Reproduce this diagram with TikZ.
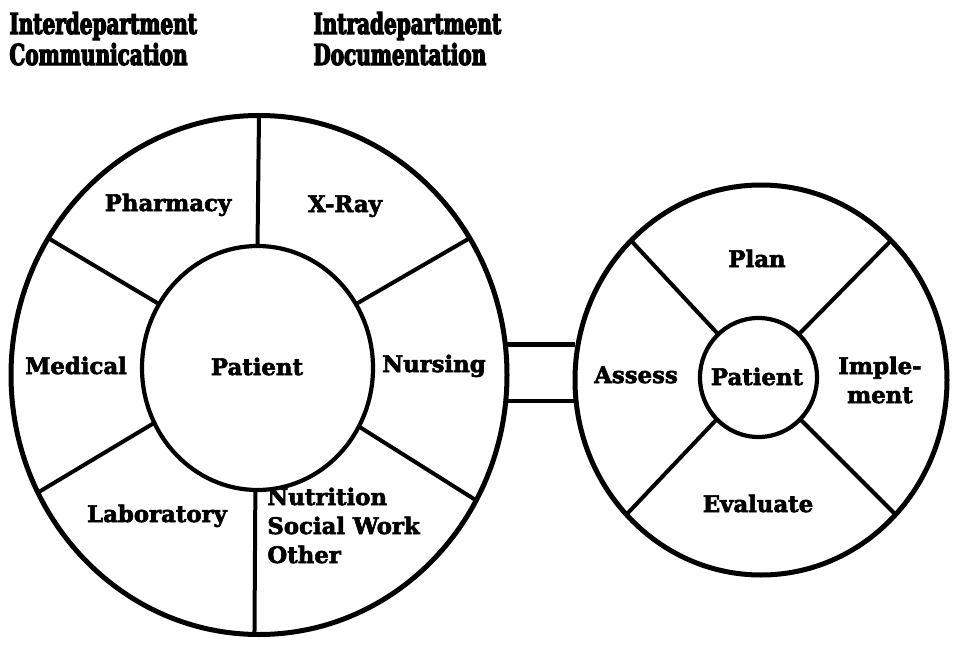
\documentclass[tikz,border=0pt]{standalone}
\usepackage{fontspec}
\setmainfont{DejaVu Serif}
\newfontfamily\headfont[FakeStretch=0.69, FakeBold=4]{DejaVu Serif}
\newfontfamily\lblfont[FakeBold=2.6]{DejaVu Serif}
\usetikzlibrary{shapes.geometric}

\begin{document}
\begin{tikzpicture}[x=0.5pt, y=-0.5pt,
		ring/.style={draw, ellipse, line width=2.5pt, inner sep=0pt, outer sep=0pt},
		hub/.style={draw, ellipse, line width=2.1pt, inner sep=0pt, outer sep=0pt},
		spoke/.style={line width=2pt},
		lbl/.style={font=\lblfont\bfseries\fontsize{11.4}{14.5}\selectfont, inner sep=0pt, anchor=base},
		head/.style={font=\headfont\bfseries\fontsize{14.5}{15.5}\selectfont, align=left, inner sep=0pt, anchor=base west}]
		%%%%% START %%%%%
		
		\useasboundingbox (0, 0) rectangle (954, 648);
		
		% headings (anchored on the second line)
		\node[head] (interT) at (9, 65) {Interdepartment\\Communication};
		\node[head] (intraT) at (313, 65) {Intradepartment\\Documentation};
		
		% left wheel
		\node[ring, minimum width=248pt, minimum height=259.5pt] (lout) at (259, 375) {};
		\node[hub, minimum width=115.5pt, minimum height=122pt] (lin) at (257.5, 368) {};
		
		\draw[spoke] (lin.90) -- (lout.90);
		\draw[spoke] (lin.33) -- (lout.33);
		\draw[spoke] (lin.-30) -- (lout.-30);
		\draw[spoke] (lin.-91) -- (lout.-91);
		\draw[spoke] (lin.-152) -- (lout.-152);
		\draw[spoke] (lin.147) -- (lout.147);
		
		\node[lbl] (pharm) at (168, 211) {Pharmacy};
		\node[lbl] (xray) at (345, 212) {X-Ray};
		\node[lbl] (medical) at (76, 374) {Medical};
		\node[lbl] (patL) at (257, 375) {Patient};
		\node[lbl] (nursing) at (434, 372) {Nursing};
		\node[lbl] (lab) at (157, 522) {Laboratory};
		\node[lbl, anchor=base west, align=left] (other) at (267, 563) {Nutrition\\Social Work\\Other};
		
		% right wheel
		\node[ring, minimum width=186pt, minimum height=195pt] (rout) at (761, 380) {};
		\node[hub, minimum width=58.5pt, minimum height=59.5pt] (rin) at (758.5, 377.5) {};
		
		\draw[spoke] (rin.47) -- (rout.47);
		\draw[spoke] (rin.133) -- (rout.133);
		\draw[spoke] (rin.-135) -- (rout.-135);
		\draw[spoke] (rin.-45) -- (rout.-45);
		
		\node[lbl] (plan) at (757, 267) {Plan};
		\node[lbl] (assess) at (636, 383) {Assess};
		\node[lbl] (patR) at (757, 385) {Patient};
		\node[lbl, align=center] (implement) at (880, 403) {Imple-\\ment};
		\node[lbl] (evaluate) at (758, 512) {Evaluate};
		
		% neck between the wheels
		\draw[spoke, line width=2.4pt] (lout.7) -- (lout.7 -| rout.west);
		\draw[spoke, line width=2.4pt] (lout.-6.5) -- (lout.-6.5 -| rout.west);
		
		%%%%% END %%%%%
	\end{tikzpicture}
\end{document}
